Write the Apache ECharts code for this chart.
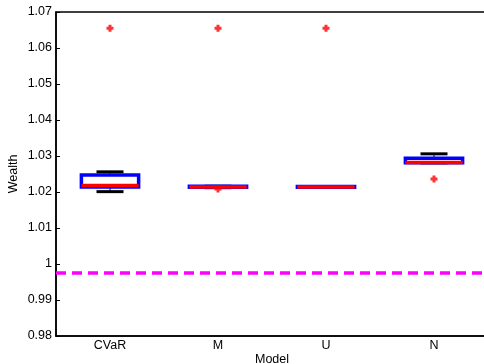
<!DOCTYPE html>
<html>
<head>
<meta charset="utf-8">
<script src="https://cdn.jsdelivr.net/npm/echarts@6/dist/echarts.min.js"></script>
<style>
html,body{margin:0;padding:0;background:#fff;}
#chart{width:484px;height:364px;}
</style>
</head>
<body>
<div id="chart"></div>
<script>
var categories = ['CVaR', 'M', 'U', 'N'];
var lowerWhisker = [1.0201, 1.0212, 1.0213, 1.0281];
var q1 = [1.0214, 1.0213, 1.0213, 1.0281];
var median = [1.0218, 1.0214, 1.0214, 1.0282];
var q3 = [1.0247, 1.0216, 1.0215, 1.0294];
var upperWhisker = [1.0256, 1.0216, 1.0215, 1.0306];
var outlierCategory = [0, 1, 1, 2, 3];
var outlierValue = [1.0655, 1.0655, 1.0208, 1.0655, 1.0236];
var referenceLevel = 0.9975;

var boxData = categories.map(function (c, i) {
  return [i, lowerWhisker[i], q1[i], median[i], q3[i], upperWhisker[i]];
});
var outlierData = outlierCategory.map(function (c, i) {
  return [c, outlierValue[i]];
});

var chart = echarts.init(document.getElementById('chart'), null, {renderer: 'canvas'});
var font = 'Liberation Sans, Arial, sans-serif';

function renderBox(params, api) {
  var idx = api.value(0);
  var band = api.size([1, 0])[0];
  var boxHalf = band * 0.265;
  var capHalf = band * 0.125;
  var lw = api.coord([idx, api.value(1)]);
  var b1 = api.coord([idx, api.value(2)]);
  var md = api.coord([idx, api.value(3)]);
  var b3 = api.coord([idx, api.value(4)]);
  var uw = api.coord([idx, api.value(5)]);
  var x = md[0];
  var children = [
    {type: 'line', shape: {x1: x, y1: uw[1], x2: x, y2: b3[1]}, style: {stroke: '#000', lineWidth: 1}},
    {type: 'line', shape: {x1: x, y1: lw[1], x2: x, y2: b1[1]}, style: {stroke: '#000', lineWidth: 1}},
    {type: 'line', shape: {x1: x - capHalf, y1: uw[1], x2: x + capHalf, y2: uw[1]}, style: {stroke: '#000', lineWidth: 3}},
    {type: 'line', shape: {x1: x - capHalf, y1: lw[1], x2: x + capHalf, y2: lw[1]}, style: {stroke: '#000', lineWidth: 3}},
    {type: 'rect', shape: {x: x - boxHalf, y: b3[1], width: boxHalf * 2, height: Math.max(b1[1] - b3[1], 0.5)},
      style: {stroke: '#0000ff', fill: 'none', lineWidth: 3.5}},
    {type: 'line', shape: {x1: x - boxHalf, y1: md[1], x2: x + boxHalf, y2: md[1]}, style: {stroke: '#ff0000', lineWidth: 3.5}}
  ];
  return {type: 'group', children: children};
}

var option = {
  animation: false,
  backgroundColor: '#fff',
  grid: {left: 56, top: 12, width: 432, height: 324, outerBoundsMode: 'none', containLabel: false,
    show: true, borderColor: '#000', borderWidth: 1.5, backgroundColor: 'transparent'},
  xAxis: {
    type: 'category',
    data: categories,
    name: 'Model',
    nameLocation: 'middle',
    nameGap: 17,
    nameMoveOverlap: false,
    nameTextStyle: {color: '#000', fontSize: 12.5, fontFamily: font},
    axisLine: {lineStyle: {color: '#000', width: 1.5}},
    axisTick: {show: false},
    axisLabel: {color: '#000', fontSize: 12.5, fontFamily: font, margin: 3},
    splitLine: {show: false}
  },
  yAxis: [{
    type: 'value',
    min: 0.98,
    max: 1.07,
    interval: 0.01,
    name: 'Wealth',
    nameLocation: 'middle',
    nameGap: 36,
    nameMoveOverlap: false,
    nameTextStyle: {color: '#000', fontSize: 12.5, fontFamily: font},
    axisLine: {show: true, lineStyle: {color: '#000', width: 1.5}},
    axisTick: {show: true, inside: true, length: 4, lineStyle: {color: '#000'}},
    axisLabel: {color: '#000', fontSize: 12.5, fontFamily: font, margin: 4,
      formatter: function (v) { return String(parseFloat(v.toFixed(2))); }},
    splitLine: {show: false}
  }, {
    type: 'value',
    position: 'right',
    min: 0.98,
    max: 1.07,
    interval: 0.01,
    axisLine: {show: true, lineStyle: {color: '#000', width: 1.5}},
    axisTick: {show: true, inside: true, length: 4, lineStyle: {color: '#000'}},
    axisLabel: {show: false},
    splitLine: {show: false}
  }],
  series: [{
    type: 'custom',
    renderItem: renderBox,
    data: boxData,
    encode: {x: 0, y: [1, 2, 3, 4, 5]},
    z: 3
  }, {
    type: 'scatter',
    data: outlierData,
    symbol: 'path://M2,0H5V2H7V5H5V7H2V5H0V2H2Z',
    symbolSize: 7,
    itemStyle: {color: '#ff0000'},
    z: 4,
    markLine: {
      silent: true,
      symbol: 'none',
      precision: 4,
      label: {show: false},
      lineStyle: {color: '#ff00ff', width: 3.5, type: [10, 6]},
      data: [{yAxis: referenceLevel}]
    }
  }]
};
chart.setOption(option);
</script>
</body>
</html>
